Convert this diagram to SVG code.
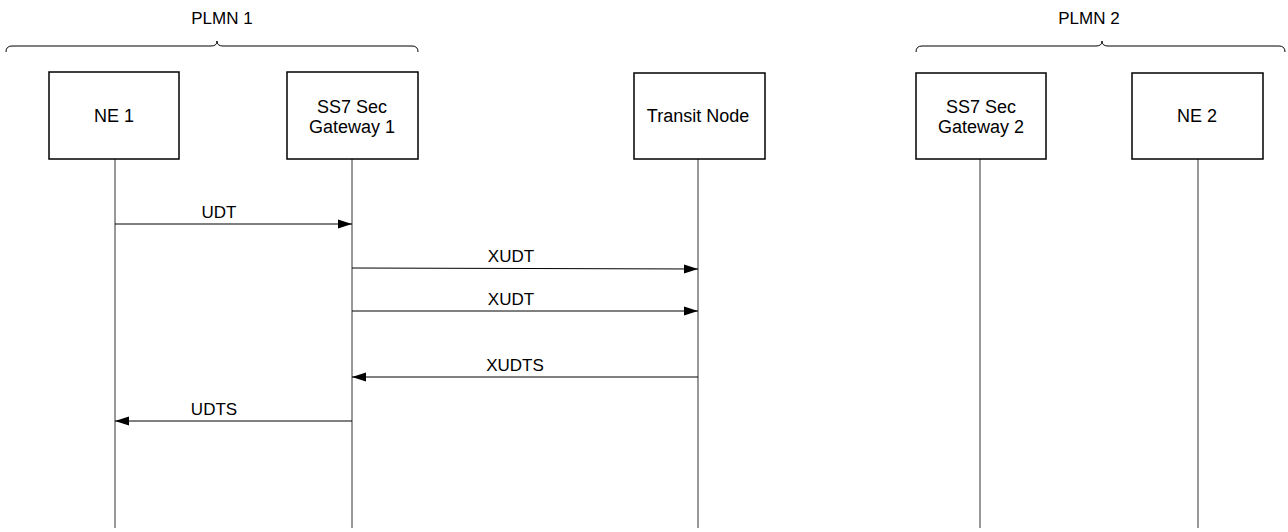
<svg xmlns="http://www.w3.org/2000/svg" width="1288" height="532" viewBox="0 0 1288 532">
<style>
.box{fill:#fff;stroke:#000;stroke-width:1.5}
.life{stroke:#333;stroke-width:1;fill:none}
.msg{stroke:#000;stroke-width:1;fill:none}
.brace{stroke:#000;stroke-width:1;fill:none}
text{font-family:"Liberation Sans",Arial,sans-serif;fill:#000;text-anchor:middle}
.nt{font-size:18px}
.ml{font-size:17px}
</style>
<defs>
<marker id="ah" markerWidth="14" markerHeight="10" refX="14" refY="5" orient="auto" markerUnits="userSpaceOnUse">
<path d="M0,0.5 L14,5 L0,9.5 Z" fill="#000"/>
</marker>
</defs>
<g id="plmn1">
<path class="brace" d="M6,52 Q6,46 12,46 L211,46 Q217,46 217,41 Q217,46 223,46 L412,46 Q418,46 418,52"/>
<text class="ml" x="222" y="24">PLMN 1</text>
</g>
<g id="plmn2">
<path class="brace" d="M916,52 Q916,46 922,46 L1096,46 Q1102,46 1102,41 Q1102,46 1108,46 L1279,46 Q1285,46 1285,52"/>
<text class="ml" x="1089" y="24">PLMN 2</text>
</g>
<g id="ne1">
<line class="life" x1="115" y1="159" x2="115" y2="528"/>
<rect class="box" x="49" y="72" width="130" height="87"/>
<text class="nt" x="114" y="122">NE 1</text>
</g>
<g id="gw1">
<line class="life" x1="352" y1="159" x2="352" y2="528"/>
<rect class="box" x="287" y="72" width="131" height="87"/>
<text class="nt" x="352" y="113">SS7 Sec</text>
<text class="nt" x="352" y="133">Gateway 1</text>
</g>
<g id="transit">
<line class="life" x1="698" y1="159" x2="698" y2="528"/>
<rect class="box" x="634" y="73" width="131" height="86"/>
<text class="nt" x="698" y="122">Transit Node</text>
</g>
<g id="gw2">
<line class="life" x1="980" y1="159" x2="980" y2="528"/>
<rect class="box" x="916" y="73" width="130" height="86"/>
<text class="nt" x="981" y="113">SS7 Sec</text>
<text class="nt" x="981" y="133">Gateway 2</text>
</g>
<g id="ne2">
<line class="life" x1="1198" y1="159" x2="1198" y2="528"/>
<rect class="box" x="1132" y="73" width="131" height="86"/>
<text class="nt" x="1197" y="122">NE 2</text>
</g>
<g id="connectors">
<line class="msg" x1="115" y1="224" x2="352" y2="224" marker-end="url(#ah)"/>
<text class="ml" x="219" y="218">UDT</text>
<line class="msg" x1="352" y1="268" x2="698" y2="269" marker-end="url(#ah)"/>
<text class="ml" x="511" y="262">XUDT</text>
<line class="msg" x1="352" y1="311" x2="698" y2="311" marker-end="url(#ah)"/>
<text class="ml" x="511" y="305">XUDT</text>
<line class="msg" x1="698" y1="377" x2="352" y2="377" marker-end="url(#ah)"/>
<text class="ml" x="515" y="371">XUDTS</text>
<line class="msg" x1="352" y1="421" x2="115" y2="421" marker-end="url(#ah)"/>
<text class="ml" x="214" y="415">UDTS</text>
</g>
</svg>
